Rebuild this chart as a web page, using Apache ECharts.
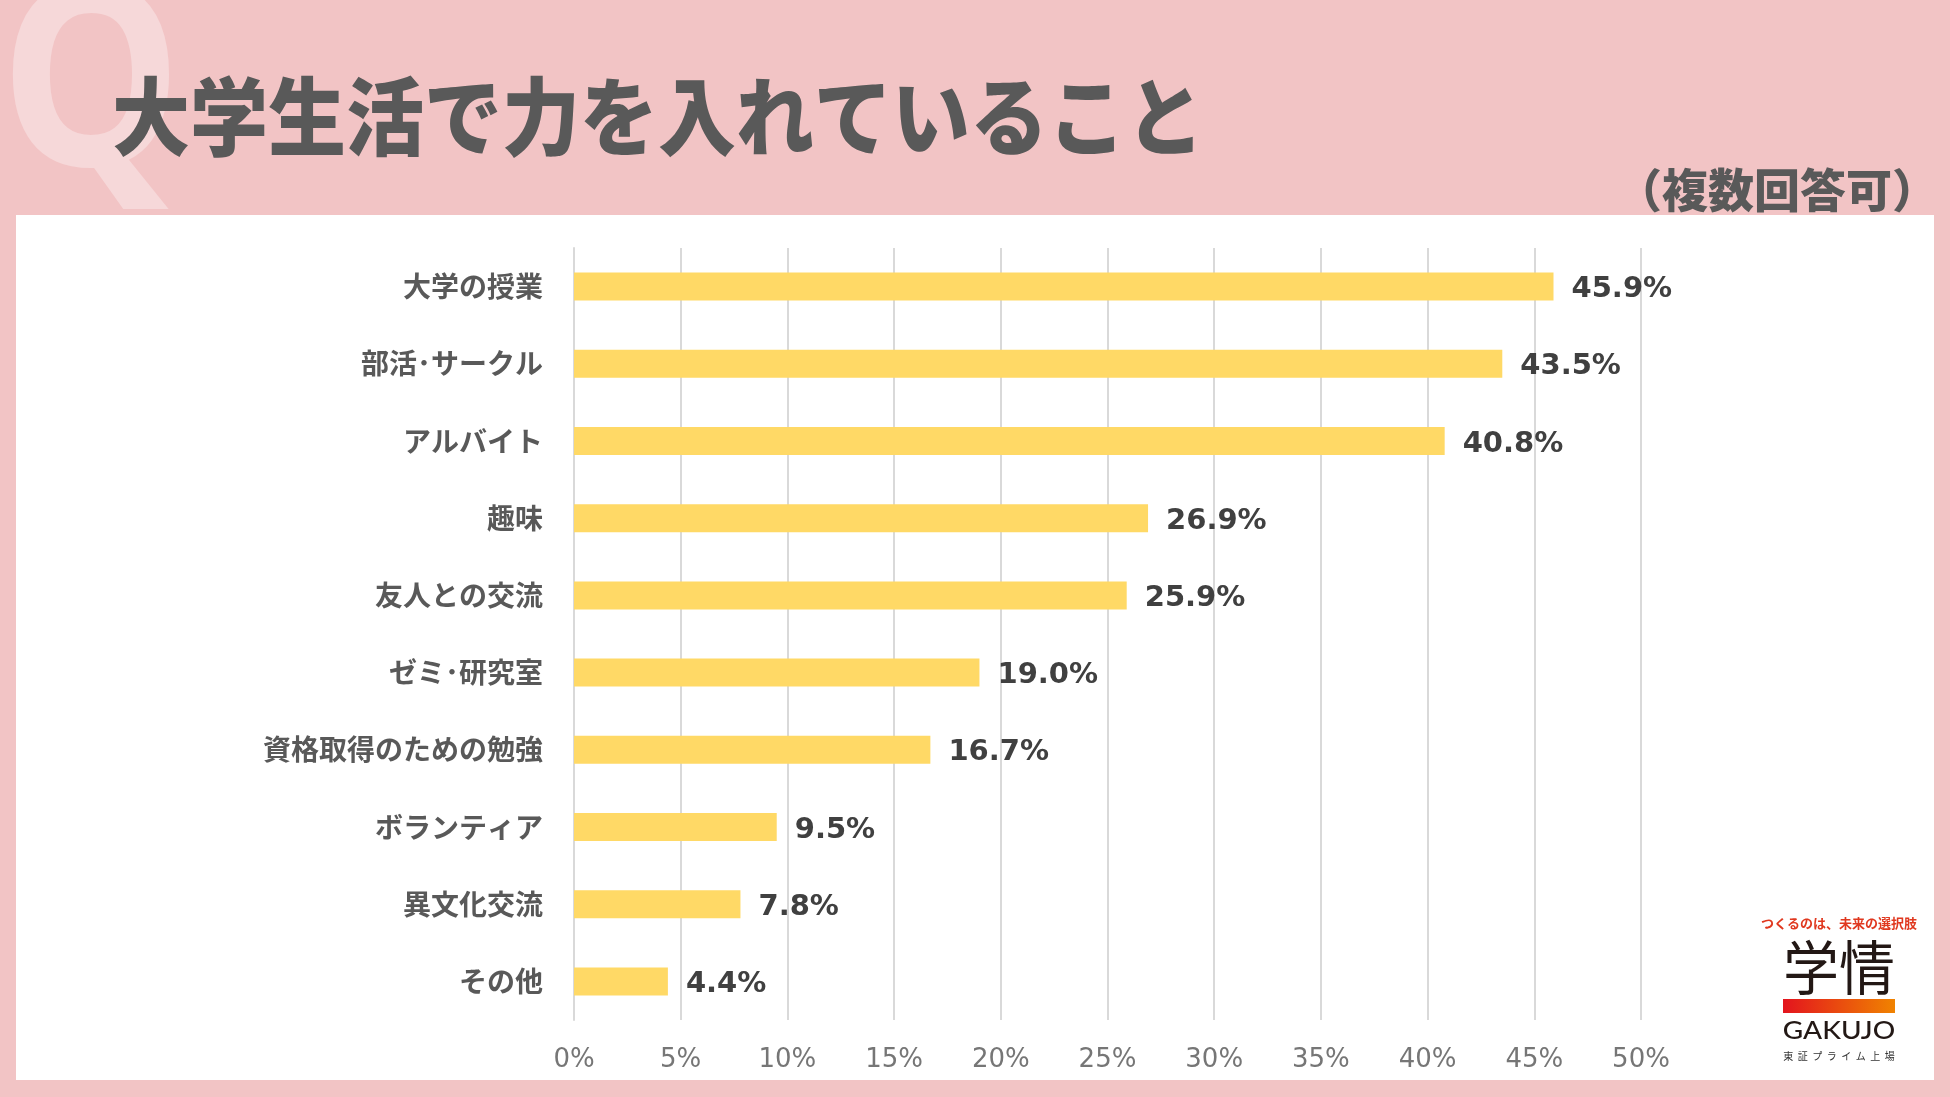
<!DOCTYPE html>
<html>
<head>
<meta charset="utf-8">
<style>
html,body{margin:0;padding:0;background:#f2c4c5;}
#chart{width:1950px;height:1097px;}
</style>
<script src="https://cdn.jsdelivr.net/npm/echarts@6/dist/echarts.min.js"></script>
</head>
<body>
<div id="chart"></div>
<script>
const categories = ['大学の授業','部活･サークル','アルバイト','趣味','友人との交流','ゼミ･研究室','資格取得のための勉強','ボランティア','異文化交流','その他'];
const values = [45.9, 43.5, 40.8, 26.9, 25.9, 19.0, 16.7, 9.5, 7.8, 4.4];
const titleText = '大学生活で力を入れていること';
const noteText = '（複数回答可）';

const chart = echarts.init(document.getElementById('chart'));
const CJK = '"Noto Sans CJK JP", "Noto Sans", sans-serif';
chart.setOption({
  backgroundColor: '#f2c4c5',
  animation: false,
  graphic: [
    { type: 'text', x: 91, y: 92, z: -5, scaleX: 0.9,
      style: { text: 'Q', fill: '#f6d8d9', font: 'bold 255px "Noto Sans", sans-serif', textAlign: 'center', textVerticalAlign: 'middle' } },
    { type: 'rect', z: -4, shape: { x: 16, y: 215, width: 1918, height: 865 }, style: { fill: '#ffffff' } },
    { type: 'text', x: 112, y: 116, z: 10, scaleY: 1.1,
      style: { text: titleText, fill: '#595959', font: '900 78px ' + CJK, textAlign: 'left', textVerticalAlign: 'middle' } },
    { type: 'text', x: 1938, y: 190, z: 10,
      style: { text: noteText, fill: '#595959', font: '900 46px ' + CJK, textAlign: 'right', textVerticalAlign: 'middle' } },
    { type: 'text', x: 1839, y: 923, z: 10,
      style: { text: 'つくるのは、未来の選択肢', fill: '#e0381f', font: 'bold 13px ' + CJK, textAlign: 'center', textVerticalAlign: 'middle' } },
    { type: 'text', x: 1839, y: 968, z: 10, scaleY: 1.05,
      style: { text: '学情', fill: '#231815', font: '400 56px ' + CJK, textAlign: 'center', textVerticalAlign: 'middle' } },
    { type: 'rect', z: 10, shape: { x: 1783, y: 999, width: 112, height: 14 },
      style: { fill: new echarts.graphic.LinearGradient(0, 0, 1, 0, [{ offset: 0, color: '#e3141e' }, { offset: 1, color: '#f08300' }]) } },
    { type: 'text', x: 1839, y: 1031, z: 10, scaleX: 1.12,
      style: { text: 'GAKUJO', fill: '#231815', font: '500 25px Lato, sans-serif', textAlign: 'center', textVerticalAlign: 'middle' } },
    { type: 'text', x: 1839, y: 1056, z: 10,
      style: { text: '東  証  プ  ラ  イ  ム  上  場', fill: '#333333', font: '10px ' + CJK, textAlign: 'center', textVerticalAlign: 'middle' } }
  ],
  grid: { left: 574, right: 309, top: 248, bottom: 77, containLabel: false },
  xAxis: {
    type: 'value', min: 0, max: 50, interval: 5,
    axisLine: { show: false }, axisTick: { show: false },
    splitLine: { show: true, lineStyle: { color: '#d9d9d9', width: 2 } },
    axisLabel: { formatter: '{value}%', color: '#767676', fontSize: 26, fontFamily: '"DejaVu Sans", sans-serif', margin: 27 }
  },
  yAxis: {
    type: 'category', data: categories, inverse: true,
    axisLine: { show: true, lineStyle: { color: '#d9d9d9', width: 2 } },
    axisTick: { show: false },
    axisLabel: { color: '#595959', fontSize: 28, fontWeight: 'bold', fontFamily: CJK, margin: 31 }
  },
  series: [{
    type: 'bar', data: values, barWidth: 28,
    itemStyle: { color: '#ffd966' },
    label: {
      show: true, position: 'right', distance: 18, offset: [0, 3],
      formatter: p => p.value.toFixed(1) + '%',
      color: '#404040', fontSize: 29, fontWeight: 'bold', fontFamily: '"DejaVu Sans", sans-serif'
    }
  }]
});
</script>
</body>
</html>
